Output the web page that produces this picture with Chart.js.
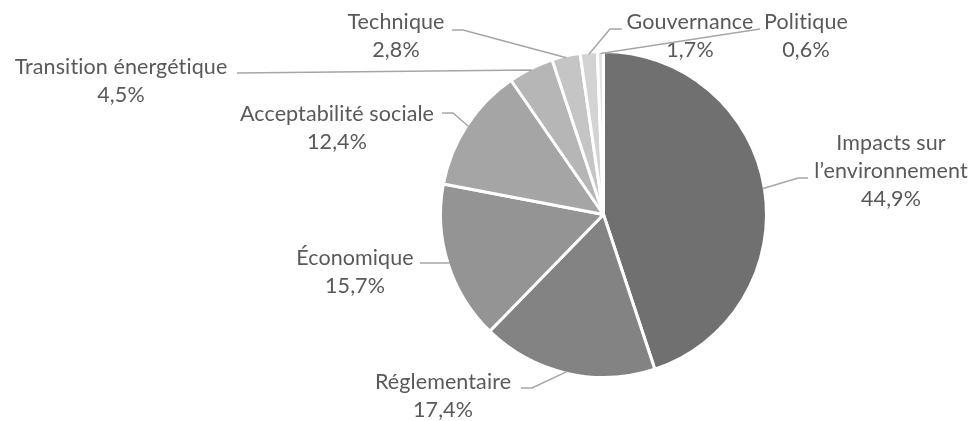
<!DOCTYPE html>
<html lang="fr">
<head>
<meta charset="utf-8">
<script src="https://cdn.jsdelivr.net/npm/chart.js@4/dist/chart.umd.min.js"></script>
<style>
  html, body { margin: 0; padding: 0; background: #fff; }
  #wrap { width: 974px; height: 421px; position: relative; }
</style>
</head>
<body>
<div id="wrap"><canvas id="pieChart" width="974" height="421"></canvas></div>
<script>
const categories = [
  'Impacts sur\nl\u2019environnement',
  'Réglementaire',
  'Économique',
  'Acceptabilité sociale',
  'Transition énergétique',
  'Technique',
  'Gouvernance',
  'Politique'
];
const shares = [44.9, 17.4, 15.7, 12.4, 4.5, 2.8, 1.7, 0.6];
const sliceColors = ['#707070', '#838383', '#949494', '#a5a5a5', '#b6b6b6', '#c5c5c5', '#d3d3d3', '#e2e2e2'];

// where each label sits (text centre, first line) and the bend of its leader line
const labelLayout = [
  { x: 891, y: 143, bend: [798, 178], end: [808, 178] },
  { x: 443, y: 382, bend: [532, 388], end: [521, 388] },
  { x: 355, y: 258, bend: [447, 263], end: [420, 263] },
  { x: 337, y: 114, bend: [453, 113], end: [442, 113] },
  { x: 121, y: 67, bend: [531, 70], end: [237, 73] },
  { x: 396, y: 22, bend: [463, 30], end: [452, 30] },
  { x: 690, y: 22, bend: [610, 29], end: [622, 29] },
  { x: 806, y: 22, bend: [760, 29], end: [760, 29] }
];

const fmt = v => v.toFixed(1).replace('.', ',') + '%';

const pieLabels = {
  id: 'pieLabels',
  afterDatasetsDraw(chart) {
    const ctx = chart.ctx;
    const meta = chart.getDatasetMeta(0);
    ctx.save();
    meta.data.forEach((arc, i) => {
      const p = arc.getProps(['x', 'y', 'startAngle', 'endAngle', 'outerRadius'], true);
      const mid = (p.startAngle + p.endAngle) / 2;
      const r = p.outerRadius - 2;
      const sx = p.x + Math.cos(mid) * r;
      const sy = p.y + Math.sin(mid) * r;
      const lay = labelLayout[i];

      // leader line
      ctx.strokeStyle = '#a6a6a6';
      ctx.lineWidth = 1.5;
      ctx.beginPath();
      ctx.moveTo(sx, sy);
      ctx.lineTo(lay.bend[0], lay.bend[1]);
      ctx.lineTo(lay.end[0], lay.end[1]);
      ctx.stroke();

      // label text (small letter spacing keeps Lato from joining "ti")
      ctx.fillStyle = '#595959';
      ctx.font = '21.5px Lato, "Noto Sans", sans-serif';
      ctx.letterSpacing = '0.1px';
      ctx.textAlign = 'center';
      ctx.textBaseline = 'middle';
      const lines = categories[i].split('\n').concat(fmt(shares[i]));
      lines.forEach((t, k) => ctx.fillText(t, lay.x, lay.y + k * 28));
    });
    ctx.restore();
  }
};

new Chart(document.getElementById('pieChart').getContext('2d'), {
  type: 'pie',
  data: {
    labels: categories,
    datasets: [{
      data: shares,
      backgroundColor: sliceColors,
      borderColor: '#ffffff',
      borderWidth: 3,
      hoverBorderWidth: 3
    }]
  },
  options: {
    responsive: false,
    animation: false,
    layout: { padding: { left: 439, right: 206, top: 50, bottom: 42 } },
    plugins: {
      legend: { display: false },
      tooltip: { enabled: false }
    }
  },
  plugins: [pieLabels]
});
</script>
</body>
</html>
